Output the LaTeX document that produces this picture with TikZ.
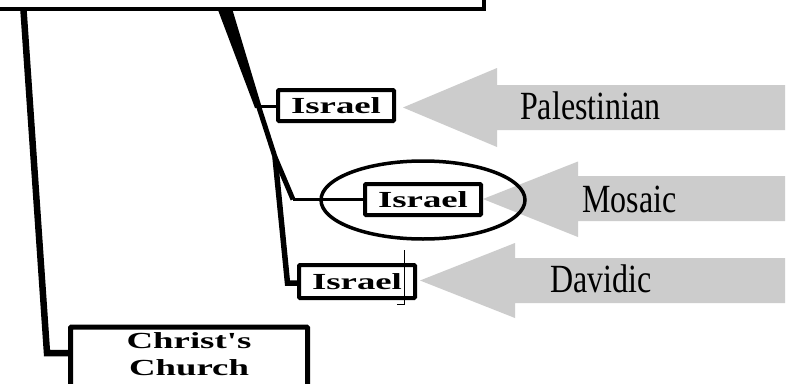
\documentclass[tikz,border=0pt]{standalone}
\usepackage{fontspec}
\setmainfont{Liberation Serif}
\usetikzlibrary{shapes.geometric,calc}
\definecolor{arrowgray}{HTML}{CCCCCC}
% wide bold lettering for the boxes, narrow tall lettering for the covenant names
\newcommand\widebold[1]{\scalebox{1.6}[1]{\bfseries #1}}
\newcommand\tallname[1]{\scalebox{0.8}[1]{#1}}
\begin{document}
\begin{tikzpicture}[x=1pt,y=-1pt,
  israelbox/.style={draw, line width=4pt, fill=white, rounded corners=1pt,
    minimum width=116pt, minimum height=31pt, inner sep=0pt,
    font=\fontsize{23}{23}\selectfont},
  churchbox/.style={draw, line width=5pt, fill=white, rounded corners=1pt,
    minimum width=237pt, minimum height=80pt, inner sep=0pt},
  boxtext/.style={anchor=base, inner sep=0pt, font=\fontsize{23}{23}\selectfont},
  covname/.style={anchor=base west, inner sep=0pt, font=\fontsize{40}{40}\selectfont},
  trunk/.style={line width=6.5pt, line join=miter, line cap=butt},
  branch/.style={line width=5pt, line join=miter, line cap=butt},
  twig/.style={line width=3.5pt, line cap=butt},
  pointer/.style={fill=arrowgray}
]
\useasboundingbox (0,0) rectangle (790,383);
\fill[white] (0,0) rectangle (790,383);

% top box (only its lower edge is visible)
\node[draw, line width=4pt, minimum width=504pt, minimum height=39pt, inner sep=0pt]
  (topbox) at (232,-10.5) {};

% grey pointers
\fill[pointer] (403,107.5) -- (497,68) -- (497,85) -- (785,85) -- (785,130)
  -- (497,130) -- (497,147) -- cycle;
\fill[pointer] (483,199) -- (578,161.5) -- (578,176) -- (785,176) -- (785,221)
  -- (578,221) -- (578,237) -- cycle;
\fill[pointer] (420,280.5) -- (515,243) -- (515,258) -- (785,258) -- (785,303)
  -- (515,303) -- (515,318) -- cycle;

% covenant names
\node[covname] (palest) at (520,119.5) {\tallname{Palestinian}};
\node[covname] (mosaic) at (582,212) {\tallname{Mosaic}};
\node[covname] (davidic) at (550,292.5) {\tallname{Davidic}};

% boxes
\node[israelbox] (isr1) at (336,105.5) {\widebold{Israel}};
\node[draw, ellipse, line width=3.5pt, minimum width=204pt, minimum height=78pt]
  (oval) at (423,200) {};
\node[israelbox] (isr2) at (423,199.5) {\widebold{Israel}};
\node[israelbox, minimum height=33pt] (isr3) at (357,281.5) {\widebold{Israel}};
\node[churchbox, anchor=north] (ccbox) at (189,324.5) {};
\node[boxtext] (cc1) at (189,348) {\widebold{Christ\textquotesingle s}};
\node[boxtext] (cc2) at (189,375) {\widebold{Church}};

% junction points
\coordinate (lefttop) at (23.5,10);
\coordinate (leftfoot) at (47,353);
\coordinate (knee1) at (258.5,106);
\coordinate (fork) at (275,157);
\coordinate (knee2) at (293,199.5);
\coordinate (knee3) at (287.5,283);

% left trunk to Christ's Church
\draw[trunk] (lefttop) -- (leftfoot) -- (leftfoot -| ccbox.west);

% tapering middle trunk
\fill (218,10) -- (232.5,10) -- (262,108) -- (255,108) -- cycle;
\draw[twig, line width=3pt] (knee1) -- (knee1 -| isr1.west);
\draw[branch] (knee1) -- (fork) -- (knee2);
\draw[twig] (knee2) -- (knee2 -| isr2.west);
\draw[branch, line width=5.5pt] (fork) -- (knee3) -- (knee3 -| isr3.west);

% thin mark beside the lower box
\draw[line width=0.8pt] (397,304.5) -- (404,304.5) -- (404,250);
\end{tikzpicture}
\end{document}
